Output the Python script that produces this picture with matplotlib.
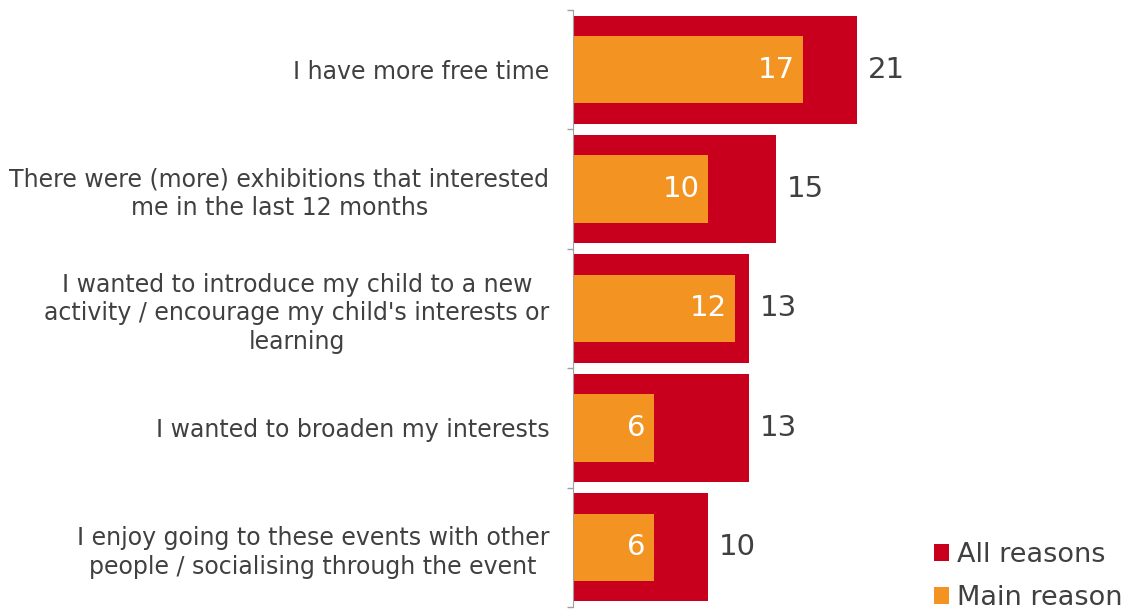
import numpy as np
import matplotlib.pyplot as plt
from matplotlib.ticker import FixedLocator

# Reasons for visiting more often (%)
reasons = [
    'I have more free time',
    'There were (more) exhibitions that interested\nme in the last 12 months',
    "I wanted to introduce my child to a new\nactivity / encourage my child's interests or\nlearning",
    'I wanted to broaden my interests',
    'I enjoy going to these events with other\npeople / socialising through the event',
]
all_reasons = [21, 15, 13, 13, 10]
main_reason = [17, 10, 12, 6, 6]

red = '#C8001E'
orange = '#F39321'
text_col = '#404040'

fig = plt.figure(figsize=(11.25, 6.09), dpi=100)
ax = fig.add_axes([573 / 1125, 2 / 609, 338 / 1125, 597 / 609])

y = np.arange(len(reasons))
b1 = ax.barh(y, all_reasons, height=0.905, color=red, label='All reasons')
b2 = ax.barh(y, main_reason, height=0.565, color=orange, label='Main reason')

for yi, v in zip(y, all_reasons):
    ax.annotate(str(v), (v, yi), xytext=(8, 0), textcoords='offset points',
                ha='left', va='center', fontsize=21, color=text_col)
for yi, v in zip(y, main_reason):
    ax.annotate(str(v), (v, yi), xytext=(-6, 0), textcoords='offset points',
                ha='right', va='center', fontsize=21, color='white')

ax.set_xlim(0, 25)
ax.set_ylim(len(reasons) - 0.5, -0.5)
ax.set_yticks(y)
ax.set_yticklabels(reasons, fontsize=17, color=text_col, ha='right',
                   multialignment='center', linespacing=1.25)
ax.yaxis.set_minor_locator(FixedLocator(np.arange(-0.5, len(reasons), 1)))
ax.tick_params(axis='y', which='major', length=0, pad=17)
ax.tick_params(axis='y', which='minor', length=4.5, color='#A0A0A0', width=1)
ax.xaxis.set_visible(False)
for s in ['top', 'right', 'bottom']:
    ax.spines[s].set_visible(False)
ax.spines['left'].set_color('#A0A0A0')

leg = fig.legend(handles=[b1, b2], loc='lower right', bbox_to_anchor=(1.012, -0.03),
                 frameon=False, fontsize=19.5, handlelength=0.55, handleheight=0.55,
                 handletextpad=0.3, labelspacing=0.62, borderaxespad=0.2)
for t in leg.get_texts():
    t.set_color(text_col)

fig.savefig('out.png', dpi=100)
